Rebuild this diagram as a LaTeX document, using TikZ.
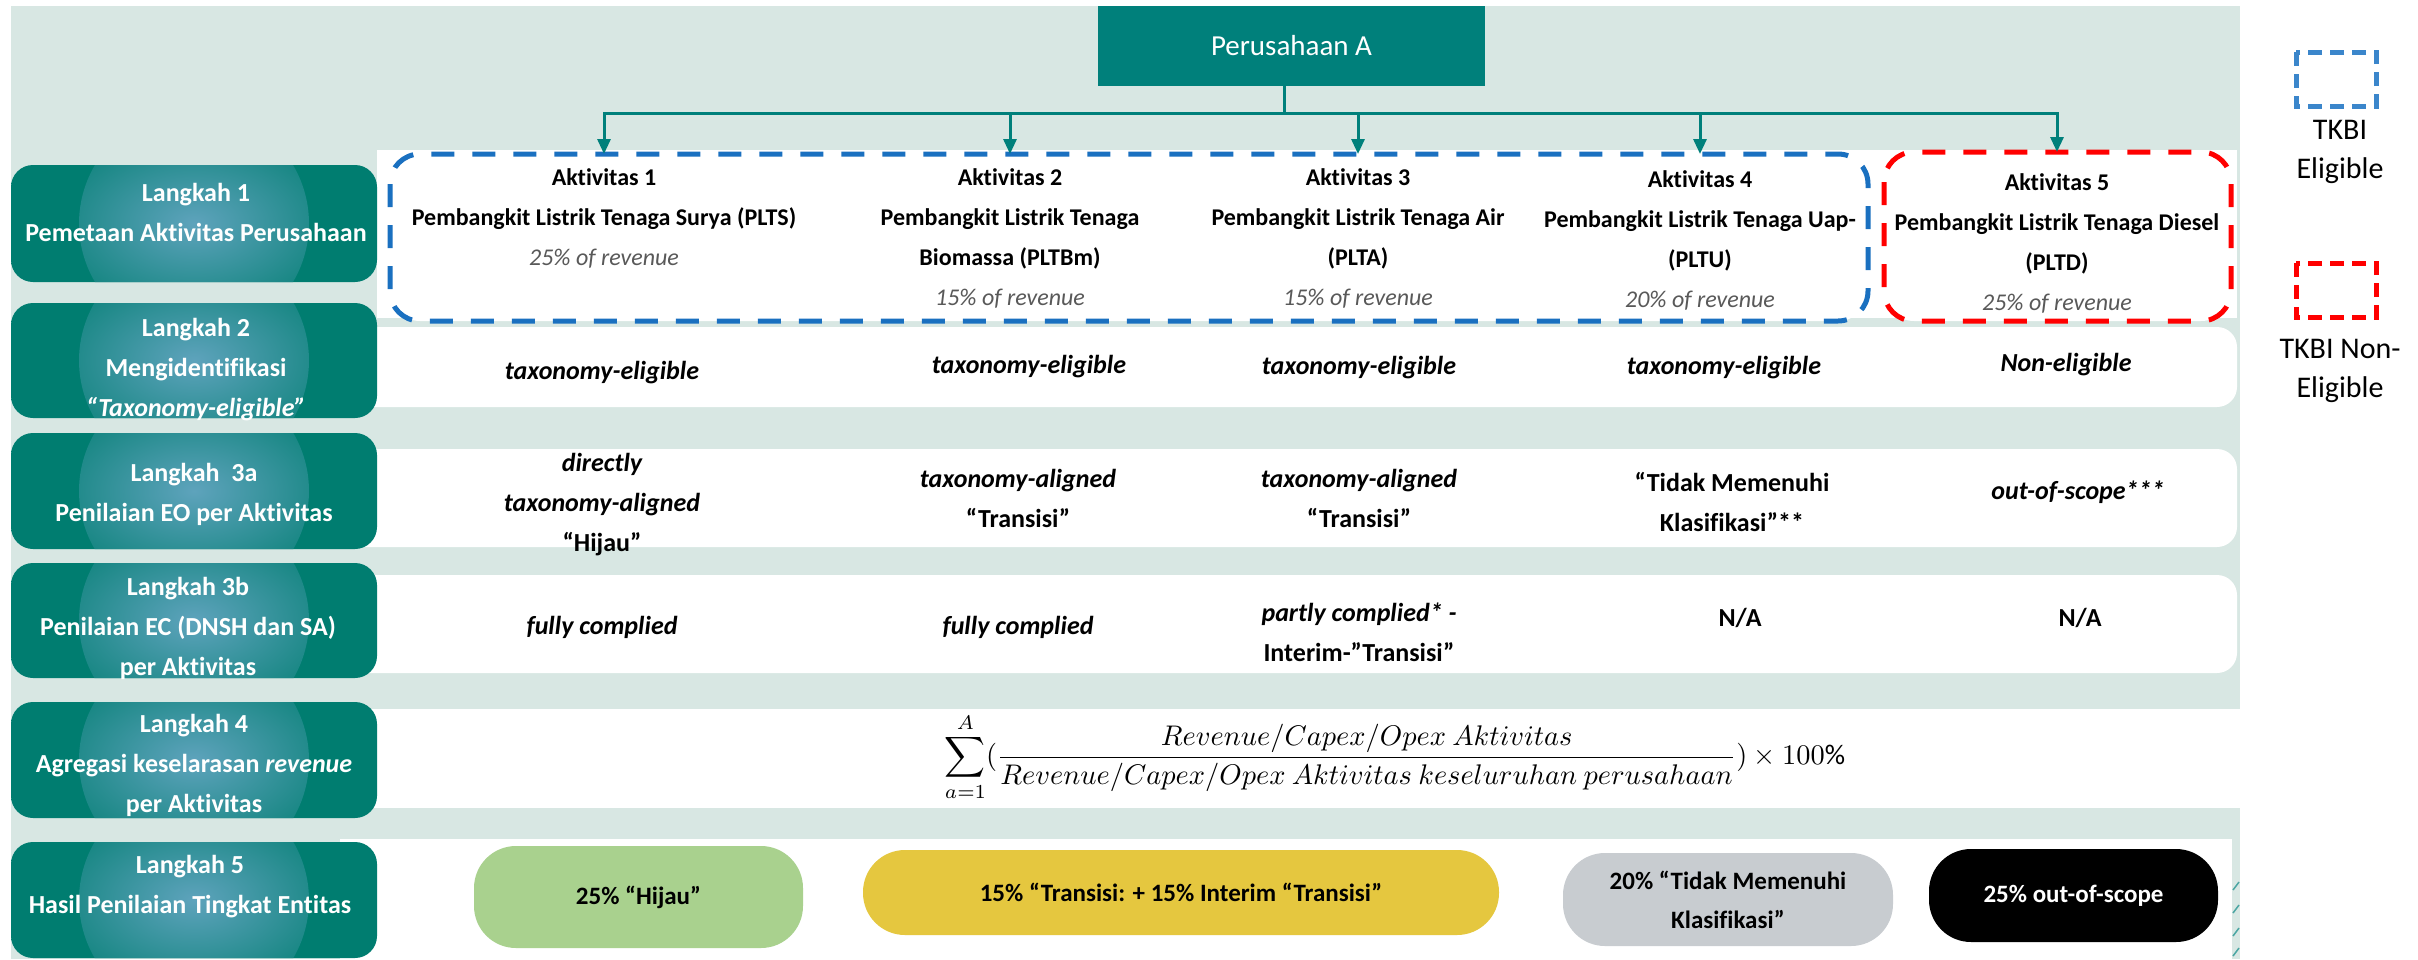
\documentclass[tikz,border=0pt]{standalone}
\usepackage{fontspec}
\setmainfont{Carlito}[Ligatures=NoCommon]
\usepackage{graphicx}
\usetikzlibrary{arrows.meta}
\definecolor{bgc}{HTML}{D8E7E3}
\definecolor{tealc}{HTML}{00807B}
\definecolor{blued}{HTML}{1A70C0}
\definecolor{bluel}{HTML}{3B86CB}
\definecolor{redd}{HTML}{FF0000}
\definecolor{revg}{HTML}{595959}
\definecolor{pgreen}{HTML}{A9D18E}
\definecolor{pyellow}{HTML}{E5C73F}
\definecolor{pgray}{HTML}{C8CCD0}
\definecolor{glowc}{HTML}{5EA3BC}
\definecolor{tealbase}{HTML}{007D70}
\pgfdeclarehorizontalshading{stepbase}{100bp}{rgb(0bp)=(0.24,0.68,0.60); rgb(8bp)=(0.05,0.53,0.47); rgb(16bp)=(0.0,0.49,0.44); rgb(84bp)=(0.0,0.49,0.44); rgb(92bp)=(0.05,0.53,0.47); rgb(100bp)=(0.24,0.68,0.60)}
\tikzset{
  stepbox/.style={rounded corners=22pt, shading=stepbase, minimum width=366pt, inner sep=0pt,
    path picture={\shade[inner color=glowc, outer color=tealbase] (path picture bounding box.center) circle (115pt);}},
  steptxt/.style={text=white, font=\bfseries\fontsize{26}{40}\selectfont, align=center, inner sep=0pt},
  act/.style={align=center, font=\fontsize{24}{40}\selectfont, inner sep=0pt},
  rowtxt/.style={font=\bfseries\itshape\fontsize{26}{40}\selectfont, align=center, inner sep=0pt},
  pill/.style={rounded corners=42pt, font=\bfseries\fontsize{25}{39}\selectfont, align=center, inner sep=0pt},
  conn/.style={draw=tealc, line width=3pt, -{Triangle[length=15pt,width=13pt]}},
  bluedash/.style={draw=blued, line width=5pt, dash pattern=on 23pt off 18pt, rounded corners=30pt},
  reddash/.style={draw=redd, line width=5pt, dash pattern=on 23pt off 18pt, rounded corners=30pt},
  legtxt/.style={font=\fontsize{30}{39}\selectfont, align=center, inner sep=0pt},
  band/.style={fill=white, rounded corners=20pt}
}
\newcommand{\rev}[1]{\textcolor{revg}{\textit{#1}}}
\begin{document}
\begin{tikzpicture}[x=1pt,y=-1pt]
\useasboundingbox (0,0) rectangle (2418,959);
\fill[white] (0,0) rectangle (2418,959);
% background
\fill[bgc] (11,6) rectangle (2240,959);
% white bands
\fill[white] (377,150) rectangle (2237,318);
\fill[band] (340,327) rectangle (2237,407);
\fill[band] (340,449) rectangle (2237,547);
\fill[band] (340,575) rectangle (2237,673);
\fill[white] (340,709) rectangle (2240,808);
\fill[white] (340,839) rectangle (2232,959);
\foreach \yy in {890,913,936,956}
  \draw[tealc!70, line width=1.5pt] (2233,\yy) -- (2239,\yy-8);
% dashed activity boxes
\draw[bluedash, fill=white] (390,154) rectangle (1868,321);
\draw[reddash, fill=white] (1884,152) rectangle (2231,321);
% top company box
\node[fill=tealc, text=white, minimum width=387pt, minimum height=80pt, inner sep=0pt,
      font=\fontsize{29}{34}\selectfont] (pa) at (1291.5,46) {Perusahaan A};
\coordinate (bus) at (1284,113);
\coordinate (t1) at (604,154);
\coordinate (t2) at (1010,154);
\coordinate (t3) at (1358,154);
\coordinate (t4) at (1700,154);
\coordinate (t5) at (2057,152);
\foreach \t in {t1,t2,t3,t4,t5}
  \draw[conn] ([xshift=-7.5pt]pa.south) -- (bus) -| (\t);
% activities
\node[act] (a1) at (604,218) {\textbf{Aktivitas 1}\\\textbf{Pembangkit Listrik Tenaga Surya (PLTS)}\\\rev{25\% of revenue}};
\node[act] (a2) at (1010,238) {\textbf{Aktivitas 2}\\\textbf{Pembangkit Listrik Tenaga}\\\textbf{Biomassa (PLTBm)}\\\rev{15\% of revenue}};
\node[act] (a3) at (1358,238) {\textbf{Aktivitas 3}\\\textbf{Pembangkit Listrik Tenaga Air}\\\textbf{(PLTA)}\\\rev{15\% of revenue}};
\node[act] (a4) at (1700,240) {\textbf{Aktivitas 4}\\\textbf{Pembangkit Listrik Tenaga Uap-}\\\textbf{(PLTU)}\\\rev{20\% of revenue}};
\node[act] (a5) at (2057,243) {\textbf{Aktivitas 5}\\\textbf{Pembangkit Listrik Tenaga Diesel}\\\textbf{(PLTD)}\\\rev{25\% of revenue}};
% step boxes
\node[stepbox, minimum height=117pt] (s1) at (194,223.5) {};
\node[stepbox, minimum height=115pt] (s2) at (194,360.5) {};
\node[stepbox, minimum height=116pt] (s3a) at (194,491) {};
\node[stepbox, minimum height=115pt] (s3b) at (194,620.5) {};
\node[stepbox, minimum height=116pt] (s4) at (194,760) {};
\node[stepbox, minimum height=116pt] (s5) at (194,900) {};
\node[steptxt] (s1t) at (196,212) {Langkah 1\\Pemetaan Aktivitas Perusahaan};
\node[steptxt] (s2t) at (196,370) {Langkah 2\\Mengidentifikasi\\\textit{“Taxonomy-eligible”}};
\node[steptxt] (s3at) at (194,494) {Langkah\ \ 3a\\Penilaian EO per Aktivitas};
\node[steptxt] (s3bt) at (188,628) {Langkah 3b\\Penilaian EC (DNSH dan SA)\\per Aktivitas};
\node[steptxt] (s4t) at (194,765) {Langkah 4\\Agregasi keselarasan \textit{revenue}\\per Aktivitas};
\node[steptxt] (s5t) at (190,887) {Langkah 5\\Hasil Penilaian Tingkat Entitas};
% row 2
\node[rowtxt] (e1) at (602,373) {taxonomy-eligible};
\node[rowtxt] (e2) at (1029,367) {taxonomy-eligible};
\node[rowtxt] (e3) at (1359,368) {taxonomy-eligible};
\node[rowtxt] (e4) at (1724,368) {taxonomy-eligible};
\node[rowtxt] (e5) at (2066,365) {Non-eligible};
% row 3a
\node[rowtxt] (o1) at (602,505) {directly\\taxonomy-aligned\\\textup{“Hijau”}};
\node[rowtxt] (o2) at (1018,498) {taxonomy-aligned\\\textup{“Transisi”}};
\node[rowtxt] (o3) at (1359,498) {taxonomy-aligned\\\textup{“Transisi”}};
\node[rowtxt, font=\bfseries\fontsize{26}{40}\selectfont] (o4) at (1732,502) {“Tidak Memenuhi\\Klasifikasi”**};
\node[rowtxt] (o5) at (2078,492) {out-of-scope***};
% row 3b
\node[rowtxt] (c1) at (602,627) {fully complied};
\node[rowtxt] (c2) at (1018,627) {fully complied};
\node[rowtxt] (c3) at (1359,632) {partly complied* -\\\textup{Interim-”Transisi”}};
\node[rowtxt, font=\bfseries\fontsize{26}{40}\selectfont] (c4) at (1740,618) {N/A};
\node[rowtxt, font=\bfseries\fontsize{26}{40}\selectfont] (c5) at (2080,618) {N/A};
% row 4 formula
\node[inner sep=0pt] (f) at (1395,757) {\resizebox{900pt}{!}{$\displaystyle\sum_{a=1}^{A}(\frac{Revenue/Capex/Opex\ Aktivitas}{Revenue/Capex/Opex\ Aktivitas\ keseluruhan\ perusahaan})\times 100\%$}};
% row 5 pills
\node[pill, fill=pgreen, minimum width=329pt, minimum height=102pt] (p1) at (638.5,897) {25\% “Hijau”};
\node[pill, fill=pyellow, minimum width=636pt, minimum height=85pt] (p2) at (1181,892.5) {15\% “Transisi: + 15\% Interim “Transisi”};
\node[pill, fill=pgray, minimum width=330pt, minimum height=93pt] (p3) at (1728,899.5) {20\% “Tidak Memenuhi\\Klasifikasi”};
\node[pill, fill=black, text=white, minimum width=289pt, minimum height=93pt] (p4) at (2073.5,895.5) {25\% out-of-scope};
% legend
\draw[draw=bluel, line width=5pt, dash pattern=on 14pt off 8pt] (2296,52) rectangle (2376,106);
\node[legtxt] (lt1) at (2340,152) {TKBI\\Eligible};
\draw[draw=redd, line width=5pt, dash pattern=on 14pt off 8pt] (2296,263) rectangle (2376,317);
\node[legtxt] (lt2) at (2340,371) {TKBI Non-\\Eligible};
\end{tikzpicture}
\end{document}
